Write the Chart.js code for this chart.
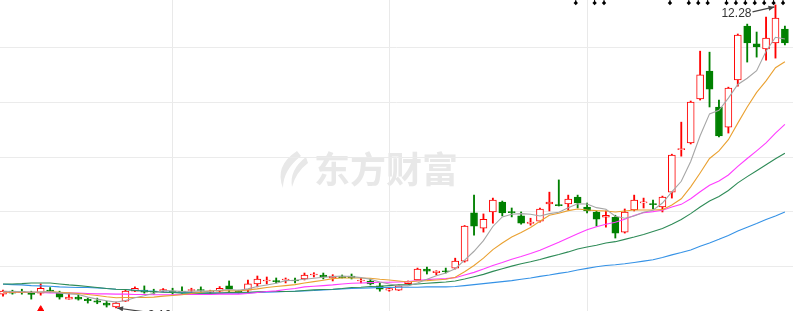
<!DOCTYPE html>
<html>
<head>
<meta charset="utf-8">
<script src="https://cdn.jsdelivr.net/npm/chart.js@4.4.1/dist/chart.umd.min.js"></script>
<style>
  html, body { margin: 0; padding: 0; background: #fff; }
  #wrap { width: 793px; height: 311px; position: relative; overflow: hidden; }
</style>
</head>
<body>
<div id="wrap"><canvas id="kline" width="793" height="311"></canvas></div>
<script>
// daily K-line, 84 sessions, prices
const open = [3.52,3.61,3.58,3.58,3.55,3.64,3.55,3.37,3.43,3.36, 3.32,3.25,3.13,3.31,3.61,3.64,3.61,3.61,3.61,3.61,
  3.63,3.66,3.58,3.61,3.77,3.61,3.64,3.83,3.92,3.93, 3.95,3.95,3.98,4.10,4.10,4.01,4.05,4.07,3.92,3.92,
  3.77,3.64,3.64,3.84,3.95,4.28,4.17,4.23,4.31,4.52, 5.98,5.52,6.01,6.31,6.02,5.89,5.66,5.73,6.25,6.23,
  6.25,6.46,6.16,6.01,5.85,5.85,5.40,6.07,6.28,6.26, 6.16,6.61,7.90,8.10,9.43,10.28,9.19,8.58,10.01,11.64,
  11.10,10.95,11.13,11.55];
const high = [3.64,3.64,3.67,3.61,3.83,3.72,3.61,3.55,3.49,3.40, 3.40,3.31,3.28,3.64,3.74,3.77,3.67,3.69,3.70,3.74,
  3.70,3.74,3.64,3.75,3.92,3.64,3.95,4.07,4.04,4.01, 4.01,4.01,4.16,4.17,4.16,4.11,4.10,4.13,4.01,3.98,
  3.86,3.70,3.80,3.92,4.31,4.34,4.23,4.31,4.61,5.60, 6.52,5.95,6.43,6.34,6.13,6.01,5.82,6.13,6.61,6.98,
  6.52,6.52,6.28,6.04,6.04,5.91,6.10,6.52,6.43,6.37, 6.49,7.76,8.73,9.37,10.88,10.85,9.40,9.79,11.40,11.70,
  11.46,11.91,12.28,11.64];
const low = [3.46,3.52,3.52,3.37,3.49,3.58,3.37,3.37,3.34,3.25, 3.23,3.13,3.10,3.30,3.60,3.55,3.52,3.60,3.52,3.55,
  3.58,3.58,3.55,3.58,3.58,3.55,3.58,3.74,3.83,3.86, 3.86,3.86,3.95,4.04,3.98,3.92,4.01,3.98,3.86,3.80,
  3.61,3.61,3.63,3.83,3.93,4.13,4.10,4.16,4.28,4.49, 5.31,5.40,5.67,5.89,5.86,5.64,5.61,5.70,6.04,6.19,
  6.07,6.13,5.98,5.58,5.55,5.22,5.37,6.04,6.13,6.10, 6.01,6.43,7.70,8.07,9.40,9.19,8.28,8.40,9.82,10.55,
  10.70,10.61,10.67,11.07];
const close = [3.61,3.55,3.57,3.51,3.70,3.60,3.43,3.43,3.37,3.32, 3.28,3.19,3.25,3.61,3.70,3.58,3.58,3.66,3.58,3.58,
  3.66,3.63,3.61,3.70,3.67,3.58,3.83,3.98,3.95,3.90, 3.98,3.92,4.10,4.13,4.04,4.07,4.02,4.01,3.95,3.83,
  3.67,3.69,3.77,3.90,4.28,4.22,4.22,4.20,4.52,5.58, 5.58,5.79,6.37,5.98,5.99,5.67,5.70,6.10,6.31,6.20,
  6.40,6.28,6.04,5.79,5.91,5.37,6.01,6.37,6.32,6.23, 6.46,7.73,7.93,9.34,10.16,9.73,8.31,9.76,11.37,11.13,
  11.01,11.28,11.88,11.13];

// moving averages as drawn
const ma5 = [3.61,3.60,3.60,3.58,3.59,3.59,3.56,3.53,3.51,3.43, 3.37,3.32,3.28,3.33,3.41,3.47,3.55,3.63,3.62,3.60,
  3.61,3.62,3.61,3.64,3.66,3.64,3.68,3.75,3.80,3.85, 3.93,3.94,3.97,4.00,4.03,4.05,4.07,4.05,4.02,3.97,
  3.89,3.83,3.78,3.77,3.86,3.97,4.08,4.16,4.29,4.55, 4.82,5.14,5.57,5.86,5.94,5.96,5.94,5.89,5.96,6.00,
  6.14,6.26,6.25,6.14,6.09,5.88,5.82,5.89,6.00,6.06, 6.28,6.62,6.94,7.54,8.32,8.98,9.09,9.46,9.87,10.06,
  10.29,10.88,11.30,11.25];
const ma10 = [3.58,3.58,3.58,3.58,3.58,3.60,3.58,3.56,3.54,3.51, 3.48,3.44,3.41,3.42,3.42,3.42,3.43,3.46,3.48,3.50,
  3.54,3.58,3.62,3.63,3.62,3.62,3.65,3.68,3.72,3.75, 3.78,3.81,3.86,3.90,3.94,3.99,4.01,4.01,4.01,4.00,
  3.97,3.95,3.92,3.89,3.92,3.93,3.95,3.97,4.03,4.20, 4.39,4.61,4.87,5.07,5.25,5.39,5.54,5.73,5.91,5.97,
  6.05,6.10,6.07,6.05,6.04,6.01,6.04,6.07,6.07,6.07, 6.08,6.22,6.41,6.77,7.19,7.63,7.86,8.20,8.70,9.19,
  9.63,9.98,10.38,10.56];
const ma20 = [3.58,3.58,3.58,3.58,3.57,3.56,3.56,3.55,3.55,3.54, 3.53,3.53,3.52,3.52,3.51,3.51,3.50,3.50,3.50,3.51,
  3.51,3.51,3.51,3.52,3.52,3.52,3.54,3.57,3.60,3.62, 3.66,3.69,3.74,3.76,3.78,3.80,3.83,3.85,3.86,3.87,
  3.88,3.88,3.89,3.90,3.93,3.96,3.98,3.99,4.02,4.10, 4.18,4.28,4.39,4.48,4.58,4.66,4.75,4.85,4.97,5.09,
  5.22,5.35,5.47,5.56,5.64,5.70,5.79,5.90,5.99,6.02, 6.06,6.16,6.24,6.41,6.62,6.82,6.95,7.13,7.39,7.63,
  7.86,8.10,8.40,8.66];
const ma30 = [3.83,3.83,3.84,3.86,3.86,3.86,3.83,3.80,3.78,3.75, 3.72,3.69,3.67,3.66,3.63,3.61,3.60,3.58,3.57,3.55,
  3.55,3.55,3.55,3.55,3.57,3.57,3.58,3.59,3.60,3.60, 3.60,3.61,3.63,3.65,3.66,3.67,3.69,3.72,3.73,3.75,
  3.76,3.78,3.80,3.81,3.83,3.85,3.87,3.89,3.92,3.98, 4.05,4.12,4.21,4.29,4.37,4.44,4.50,4.57,4.65,4.72,
  4.80,4.89,4.95,5.00,5.07,5.11,5.18,5.25,5.33,5.42, 5.51,5.64,5.78,5.96,6.16,6.34,6.48,6.66,6.89,7.08,
  7.26,7.44,7.62,7.79];
const ma60 = [3.82,3.81,3.80,3.78,3.77,3.76,3.74,3.73,3.72,3.72, 3.71,3.69,3.67,3.66,3.64,3.62,3.61,3.59,3.58,3.57,
  3.56,3.55,3.55,3.55,3.55,3.55,3.56,3.57,3.58,3.59, 3.60,3.61,3.62,3.63,3.65,3.66,3.68,3.69,3.70,3.71,
  3.72,3.72,3.73,3.73,3.73,3.74,3.74,3.74,3.75,3.78, 3.81,3.84,3.87,3.90,3.93,3.97,4.01,4.06,4.10,4.15,
  4.19,4.25,4.30,4.35,4.39,4.41,4.44,4.48,4.52,4.56, 4.63,4.71,4.78,4.86,4.97,5.07,5.18,5.30,5.43,5.55,
  5.66,5.78,5.89,6.01];

const gridPrices = [10.98, 9.33, 7.67, 6.02, 4.37];
const monthStartIdx = [18, 41, 62];
const signalIdx = [61, 63, 64, 71, 73, 74, 75, 77, 78, 79, 80, 81, 82, 83];
const buyIdx = [4];
const highIdx = 82;
const lowIdx = 12;
const priceMin = 3.01, priceMax = 12.43;

const UP = '#ff0000', DOWN = '#008000';
const isUp = close.map((c, i) => c >= open[i]);
const xy = arr => arr.map((v, i) => ({ x: i, y: v }));

function arrow(ctx, x0, y0, x1, y1) {
  const a = Math.atan2(y1 - y0, x1 - x0);
  ctx.beginPath();
  ctx.moveTo(x0, y0);
  ctx.lineTo(x1, y1);
  ctx.stroke();
  ctx.beginPath();
  ctx.moveTo(x1, y1);
  ctx.lineTo(x1 - 6 * Math.cos(a) + 2.5 * Math.sin(a), y1 - 6 * Math.sin(a) - 2.5 * Math.cos(a));
  ctx.lineTo(x1 - 6 * Math.cos(a) - 2.5 * Math.sin(a), y1 - 6 * Math.sin(a) + 2.5 * Math.cos(a));
  ctx.closePath();
  ctx.fill();
}

const decor = {
  id: 'decor',
  beforeDraw(chart) {
    const { ctx } = chart;
    ctx.save();
    ctx.fillStyle = '#e8e8e8';
    // logo swoosh
    ctx.beginPath();
    ctx.moveTo(297, 151);
    ctx.quadraticCurveTo(274, 166, 283, 188);
    ctx.quadraticCurveTo(283, 170, 301, 156);
    ctx.closePath();
    ctx.fill();
    ctx.beginPath();
    ctx.moveTo(306, 157);
    ctx.quadraticCurveTo(289, 170, 292, 187);
    ctx.quadraticCurveTo(296, 172, 308, 163);
    ctx.closePath();
    ctx.fill();
    ctx.font = 'bold 36px "Noto Sans CJK SC"';
    ctx.textBaseline = 'middle';
    ctx.fillText('东方财富', 314, 169);
    ctx.restore();
  },
  afterDatasetsDraw(chart) {
    const { ctx, scales: { x, y } } = chart;
    ctx.save();
    ctx.strokeStyle = '#444';
    ctx.fillStyle = '#444';
    ctx.lineWidth = 1.2;
    const hx = x.getPixelForValue(highIdx), hy = y.getPixelForValue(high[highIdx]);
    arrow(ctx, hx - 23, hy + 7, hx - 1, hy + 2);
    const lx = x.getPixelForValue(lowIdx), ly = y.getPixelForValue(low[lowIdx]);
    arrow(ctx, lx + 30, ly + 4, lx + 1, ly);
    ctx.fillStyle = '#333';
    ctx.font = '12px "Liberation Sans", Arial, sans-serif';
    ctx.textAlign = 'right';
    ctx.textBaseline = 'alphabetic';
    ctx.fillText(high[highIdx].toFixed(2), hx - 24, hy + 12);
    ctx.textAlign = 'left';
    ctx.fillText(low[lowIdx].toFixed(2), lx + 32, ly + 11);
    ctx.restore();
  }
};

const maLine = (data, color) => ({
  type: 'line', data: xy(data), borderColor: color, borderWidth: 1.1,
  pointRadius: 0, tension: 0, order: 1
});

new Chart(document.getElementById('kline'), {
  type: 'bar',
  data: {
    datasets: [
      {
        data: low.map((l, i) => ({ x: i, y: [l, high[i]] })),
        backgroundColor: isUp.map(u => u ? UP : DOWN),
        barThickness: 1.2, grouped: false, order: 3
      },
      {
        data: open.map((o, i) => ({ x: i, y: [o, close[i]] })),
        backgroundColor: isUp.map(u => u ? '#ffffff' : DOWN),
        borderColor: isUp.map(u => u ? UP : DOWN),
        borderWidth: 1, borderSkipped: false, barThickness: 7,
        minBarLength: 1, grouped: false, order: 2
      },
      maLine(ma5, '#a6a6a6'),
      maLine(ma10, '#eaa131'),
      maLine(ma20, '#ff3cff'),
      maLine(ma30, '#2e8b57'),
      maLine(ma60, '#3592e6'),
      {
        type: 'scatter', data: buyIdx.map(i => ({ x: i, y: 3.05 })),
        pointStyle: 'triangle', pointRadius: 4, backgroundColor: UP, borderColor: UP, order: 0
      },
      {
        type: 'scatter', data: signalIdx.map(i => ({ x: i - 0.2, y: 12.34 })),
        pointStyle: 'rectRot', pointRadius: 2.2, backgroundColor: '#000', borderColor: '#000', borderWidth: 0, order: 0
      },
      {
        type: 'scatter', data: signalIdx.map(i => ({ x: i - 0.2, y: 12.40 })),
        pointStyle: 'line', rotation: 90, pointRadius: 2, borderColor: '#000', borderWidth: 1, order: 0
      }
    ]
  },
  options: {
    responsive: false,
    animation: false,
    events: [],
    layout: { padding: 0, autoPadding: false },
    plugins: { legend: { display: false }, tooltip: { enabled: false } },
    scales: {
      x: {
        type: 'linear', min: -0.32, max: 83.86, offset: false,
        afterBuildTicks: s => { s.ticks = monthStartIdx.map(v => ({ value: v })); },
        ticks: { display: false },
        grid: { color: '#e9e9e9', drawTicks: false, offset: false },
        border: { display: false }
      },
      y: {
        type: 'linear', min: priceMin, max: priceMax,
        afterBuildTicks: s => { s.ticks = gridPrices.map(v => ({ value: v })); },
        ticks: { display: false },
        grid: { color: '#ebebeb', drawTicks: false },
        border: { display: false }
      }
    }
  },
  plugins: [decor]
});
</script>
</body>
</html>
